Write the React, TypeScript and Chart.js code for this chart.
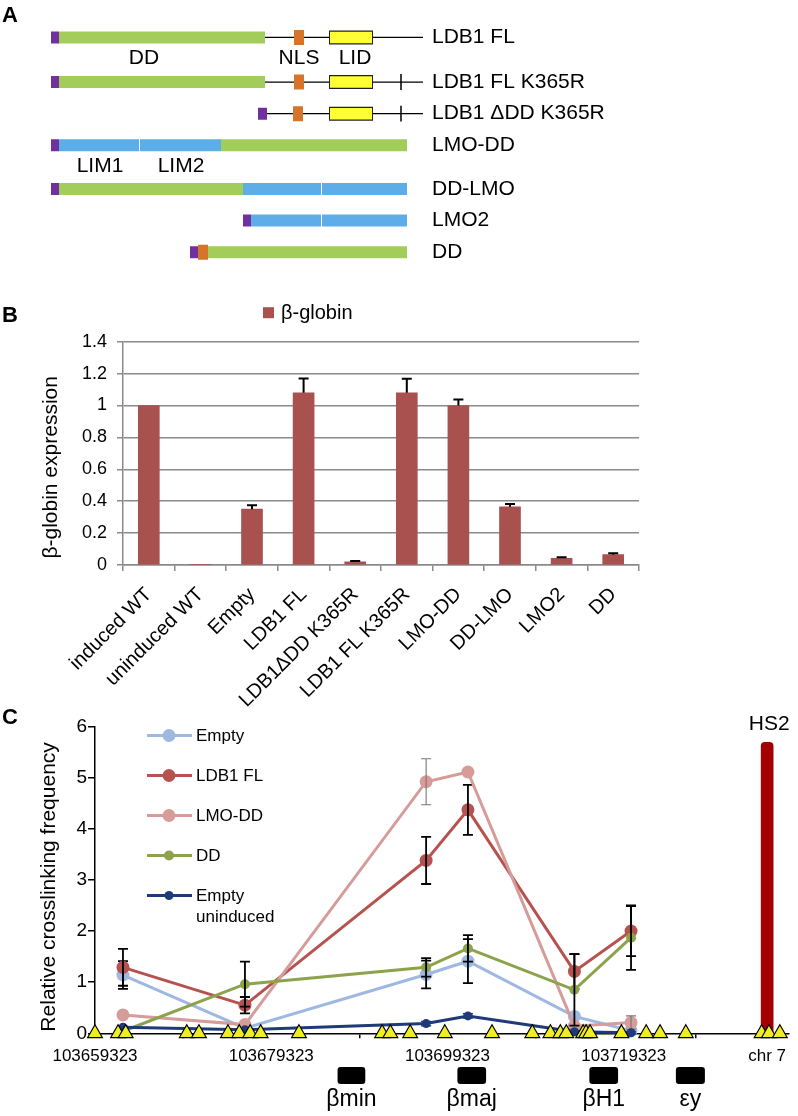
import React, { useEffect, useRef } from 'react';
import { Chart, registerables } from 'chart.js';

Chart.register(...registerables);
const FONT = '"Liberation Sans", Arial, Helvetica, sans-serif';
Chart.defaults.font.family = FONT;
Chart.defaults.color = '#000';

// ---------------- Panel A: construct diagrams ----------------
const constructs = ['LDB1 FL', 'LDB1 FL K365R', 'LDB1 ΔDD K365R', 'LMO-DD', 'DD-LMO', 'LMO2', 'DD'];
const rowPos = [0, 1.41, 2.41, 3.41, 4.79, 5.79, 6.79];
// [row, start, end]
const tagSegs = [[0, 0, 8], [1, 0, 8], [2, 207, 216], [3, 0, 8], [4, 0, 8], [5, 192, 200], [6, 139, 147]];
const ddSegs = [[0, 8, 214], [1, 8, 214], [3, 170, 356], [4, 8, 192], [6, 157, 356]];
const limSegs = [[3, 8, 88], [3, 89, 170], [4, 192, 270], [4, 271, 356], [5, 200, 270], [5, 271, 356]];
const nlsSegs = [[0, 243, 253], [1, 243, 253], [2, 242, 252], [6, 147, 157]];
const lidSegs = [[0, 279, 321], [1, 279, 321], [2, 279, 321]];
const linkerSegs = [[0, 214, 372], [1, 214, 372], [2, 216, 372]];
const mutationSites = [[1, 350], [2, 350]];
const domainLabels: [string, number, number][] = [['DD', 0, 93], ['NLS', 0, 248], ['LID', 0, 304], ['LIM1', 3, 49], ['LIM2', 3, 130]];

// ---------------- Panel B: beta-globin expression ----------------
const bSeriesName = 'β-globin';
const bCategories = ['induced WT', 'uninduced WT', 'Empty', 'LDB1 FL', 'LDB1ΔDD K365R', 'LDB1 FL K365R', 'LMO-DD', 'DD-LMO', 'LMO2', 'DD'];
const bValues = [1.0, 0.003, 0.35, 1.08, 0.02, 1.08, 1.0, 0.365, 0.042, 0.065];
const bErrors = [0, 0, 0.025, 0.09, 0.005, 0.087, 0.038, 0.017, 0.006, 0.008];
const bAxisTitle = 'β-globin expression';

// ---------------- Panel C: 3C crosslinking ----------------
const cPositions = [103662497, 103676339, 103696900, 103701645, 103713726, 103720153];
const emptyVals = [1.14, 0.10, 1.15, 1.41, 0.33, 0.05];
const emptyErr = [0.27, 0, 0.27, 0.43, 0, 0];
const ldb1Vals = [1.29, 0.55, 3.38, 4.37, 1.21, 2.0];
const ldb1Err = [0.36, 0.16, 0.46, 0.49, 0.34, 0.49];
const lmoddVals = [0.36, 0.17, 4.92, 5.11, 0.14, 0.21];
const lmoddErr = [0, 0, 0.45, 0, 0, 0.13];
const ddVals = [0.04, 0.96, 1.29, 1.66, 0.85, 1.87];
const ddErr = [0, 0.44, 0.18, 0.26, 0.7, 0.63];
const uninducedVals = [0.12, 0.07, 0.19, 0.34, 0.03, 0.01];
const uninducedErr = [0.02, 0.02, 0.04, 0.04, 0.02, 0.02];

const seriesNames = ['Empty', 'LDB1 FL', 'LMO-DD', 'DD', 'Empty uninduced'];
const legendLines = [['Empty'], ['LDB1 FL'], ['LMO-DD'], ['DD'], ['Empty', 'uninduced']];
const seriesValues = [emptyVals, ldb1Vals, lmoddVals, ddVals, uninducedVals];
const seriesErrors = [emptyErr, ldb1Err, lmoddErr, ddErr, uninducedErr];
const seriesColors = ['#9FB8E2', '#B65350', '#D59C9A', '#8CA34B', '#1E3A78'];
const markerRadius = [6.5, 6.5, 6.5, 5, 4.5];
const errorColors = ['#000', '#000', '#777', '#000', '#1E3A78'];
const errorWidths = [1.8, 1.8, 1.1, 1.8, 1.5];
const seriesOrder = [5, 4, 3, 2, 1];

const primerPositions = [103659323, 103661941, 103662806, 103669739, 103671121, 103674413, 103675694, 103676930,
  103678121, 103682469, 103691907, 103692840, 103695087, 103699020, 103704379, 103708952, 103711009, 103712132,
  103712806, 103714716, 103715054, 103715503, 103719065, 103721874, 103723447, 103726368, 103734975, 103735806, 103737042];

const geneNames = ['βmin', 'βmaj', 'βH1', 'εy'];
const geneStart = [103686851, 103700447, 103715424, 103725244];
const geneEnd = [103689997, 103703705, 103718683, 103728536];

const hs2Name = 'HS2';
const hs2Position = 103735600;
const hs2Value = 5.69;
const chr7Label = 'chr 7';
const xMin = 103659323;
const xMax = 103738000;
const xTickValues = [103659323, 103679323, 103699323, 103719323, hs2Position];
const cAxisTitle = 'Relative crosslinking frequency';

// ---------------- plugins ----------------
const errorBarPlugin = {
  id: 'errorBars',
  afterDatasetDraw(chart: any, args: any) {
    const ds: any = chart.data.datasets[args.index];
    if (!ds.errors) return;
    const yScale = chart.scales.y;
    const ctx = chart.ctx;
    ctx.save();
    ctx.strokeStyle = ds.errorColor || '#000';
    ctx.lineWidth = ds.errorWidth || 2;
    args.meta.data.forEach((el: any, i: number) => {
      const e = ds.errors[i];
      if (!e) return;
      const raw = ds.data[i];
      const v = typeof raw === 'number' ? raw : raw.y;
      const x = el.x;
      const yHi = yScale.getPixelForValue(v + e);
      const yLo = yScale.getPixelForValue(ds.errorUpOnly ? v : v - e);
      ctx.beginPath();
      ctx.moveTo(x, yLo);
      ctx.lineTo(x, yHi);
      ctx.moveTo(x - 5, yHi);
      ctx.lineTo(x + 5, yHi);
      if (!ds.errorUpOnly) {
        ctx.moveTo(x - 5, yLo);
        ctx.lineTo(x + 5, yLo);
      }
      ctx.stroke();
    });
    ctx.restore();
  },
};

const drawRotated = (ctx: CanvasRenderingContext2D, text: string, x: number, y: number, size: number) => {
  ctx.save();
  ctx.translate(x, y);
  ctx.rotate(-Math.PI / 2);
  ctx.font = `${size}px ${FONT}`;
  ctx.fillStyle = '#000';
  ctx.textAlign = 'center';
  ctx.textBaseline = 'middle';
  ctx.fillText(text, 0, 0);
  ctx.restore();
};

const segData = (segs: number[][]) =>
  segs.flatMap(([r, s, e]) => [{ x: s, y: rowPos[r] }, { x: e, y: rowPos[r] }, { x: e, y: null }]);

function configA(): any {
  const seg = (label: string, segs: number[][], color: string, width: number, order: number) => ({
    label, data: segData(segs), borderColor: color, backgroundColor: color, borderWidth: width,
    borderCapStyle: 'butt', pointRadius: 0, spanGaps: false, tension: 0, order, fill: false, clip: false,
  });
  const lidOutline = lidSegs.map(([r, s, e]) => [r, s - 1, e + 1]);
  const mutData = mutationSites.flatMap(([r, x]) => [{ x, y: rowPos[r] - 0.25 }, { x, y: rowPos[r] + 0.25 }, { x, y: null }]);
  const labelsPlugin = {
    id: 'domainLabels',
    afterDraw(chart: any) {
      const { ctx, scales } = chart;
      ctx.save();
      ctx.font = `21px ${FONT}`;
      ctx.fillStyle = '#000';
      ctx.textAlign = 'center';
      ctx.textBaseline = 'middle';
      domainLabels.forEach(([t, r, x]) => {
        ctx.fillText(t, scales.x.getPixelForValue(x), scales.y.getPixelForValue(rowPos[r] + 0.65));
      });
      ctx.restore();
    },
  };
  return {
    type: 'line',
    data: {
      datasets: [
        seg('linker', linkerSegs, '#000', 1.3, 10),
        { label: 'K365R', data: mutData, borderColor: '#000', borderWidth: 1.5, pointRadius: 0, order: 9, clip: false, spanGaps: false },
        seg('DD', ddSegs, '#A2CD5A', 12, 5),
        seg('LIM', limSegs, '#5DADE8', 12, 5),
        seg('tag', tagSegs, '#7030A0', 12, 4),
        seg('LID outline', lidOutline, '#222', 14, 3),
        seg('LID', lidSegs, '#FFFF33', 11.5, 2),
        seg('NLS', nlsSegs, '#D5742A', 15, 1),
      ],
    },
    options: {
      responsive: false, animation: false, events: [],
      layout: { padding: { left: 51, right: 0, top: 19, bottom: 5.8 } },
      plugins: { legend: { display: false }, tooltip: { enabled: false } },
      scales: {
        x: { type: 'linear', min: 0, max: 372, display: false },
        y: {
          type: 'linear', position: 'right', reverse: true, min: -0.5, max: 7.3,
          afterBuildTicks: (s: any) => { s.ticks = rowPos.map((v) => ({ value: v })); },
          afterFit: (s: any) => { s.width = 375; },
          ticks: { autoSkip: false, padding: 9, font: { size: 21 }, callback: (_v: any, i: number) => constructs[i] },
          grid: { display: false, drawTicks: false },
          border: { display: false },
        },
      },
    },
    plugins: [labelsPlugin],
  };
}

function configB(): any {
  const barColor = '#A8514F';
  const extras = {
    id: 'extrasB',
    afterDraw(chart: any) {
      const { ctx, chartArea } = chart;
      ctx.save();
      const x = chartArea.left + 140;
      const y = chartArea.top - 29;
      ctx.fillStyle = barColor;
      ctx.fillRect(x, y - 5.5, 11, 11);
      ctx.fillStyle = '#000';
      ctx.font = `20px ${FONT}`;
      ctx.textAlign = 'left';
      ctx.textBaseline = 'middle';
      ctx.fillText(bSeriesName, x + 18, y + 1);
      ctx.restore();
      drawRotated(ctx, bAxisTitle, 51, (chartArea.top + chartArea.bottom) / 2 + 14, 21);
    },
  };
  return {
    type: 'bar',
    data: {
      labels: bCategories,
      datasets: [{
        label: bSeriesName, data: bValues, backgroundColor: barColor, barThickness: 21,
        errors: bErrors, errorUpOnly: true, errorColor: '#000', errorWidth: 2,
      }],
    },
    options: {
      responsive: false, animation: false, events: [],
      layout: { padding: { top: 41.7, right: 21, left: 0, bottom: 0 } },
      plugins: { legend: { display: false }, tooltip: { enabled: false } },
      scales: {
        x: {
          grid: { offset: true, drawOnChartArea: false, drawTicks: true, tickLength: 6, color: '#8a8a8a', lineWidth: 1.5 },
          border: { color: '#8a8a8a', width: 1.5 },
          ticks: { minRotation: 45, maxRotation: 45, autoSkip: false, font: { size: 20 }, padding: 12 },
          afterFit: (s: any) => { s.height = 145; },
        },
        y: {
          min: 0, max: 1.4,
          ticks: { stepSize: 0.2, font: { size: 18 }, padding: 10, callback: (v: number) => String(Math.round(v * 10) / 10) },
          grid: { color: '#8a8a8a', lineWidth: 1.5, tickLength: 6 },
          border: { color: '#8a8a8a', width: 1.5 },
          afterFit: (s: any) => { s.width = 123; },
        },
      },
    },
    plugins: [errorBarPlugin, extras],
  };
}

function configC(): any {
  const lineSets = seriesNames.map((name, k) => ({
    type: 'line', label: name,
    data: cPositions.map((x, i) => ({ x, y: seriesValues[k][i] })),
    borderColor: seriesColors[k], backgroundColor: seriesColors[k], borderWidth: 3,
    pointRadius: markerRadius[k], pointBackgroundColor: seriesColors[k], pointBorderWidth: 0,
    errors: seriesErrors[k], errorColor: errorColors[k], errorWidth: errorWidths[k],
    order: seriesOrder[k], clip: false, tension: 0,
  }));
  const primers = {
    type: 'line', label: 'primers', data: primerPositions.map((x) => ({ x, y: 0 })), showLine: false,
    pointStyle: 'triangle', pointRadius: 8.5, pointBackgroundColor: '#EEEE22', pointBorderColor: '#000',
    pointBorderWidth: 1.2, order: 0, clip: false,
  };
  const hs2 = {
    type: 'bar', label: hs2Name, data: [{ x: hs2Position, y: hs2Value }], backgroundColor: '#A30000',
    barThickness: 12, borderRadius: 4, order: 6,
  };
  const extras = {
    id: 'extrasC',
    afterDraw(chart: any) {
      const { ctx, chartArea, scales } = chart;
      const xs = scales.x;
      const ys = scales.y;
      ctx.save();
      // legend
      legendLines.forEach((lines, k) => {
        const y = chartArea.top + 9 + k * 40;
        ctx.strokeStyle = seriesColors[k];
        ctx.lineWidth = 3;
        ctx.beginPath();
        ctx.moveTo(147, y);
        ctx.lineTo(192, y);
        ctx.stroke();
        ctx.fillStyle = seriesColors[k];
        ctx.beginPath();
        ctx.arc(169, y, markerRadius[k], 0, Math.PI * 2);
        ctx.fill();
        ctx.fillStyle = '#000';
        ctx.font = `17px ${FONT}`;
        ctx.textAlign = 'left';
        ctx.textBaseline = 'middle';
        lines.forEach((t, j) => ctx.fillText(t, 196, y + 1 + j * 21));
      });
      // genes
      geneNames.forEach((g, i) => {
        const x0 = xs.getPixelForValue(geneStart[i]);
        const x1 = xs.getPixelForValue(geneEnd[i]);
        const top = chartArea.bottom + 33.7;
        ctx.fillStyle = '#000';
        ctx.beginPath();
        (ctx as any).roundRect(x0, top, x1 - x0, 17, 3);
        ctx.fill();
        ctx.font = `23px ${FONT}`;
        ctx.textAlign = 'center';
        ctx.textBaseline = 'alphabetic';
        ctx.fillText(g, (x0 + x1) / 2, chartArea.bottom + 73);
      });
      // HS2 label
      ctx.font = `21px ${FONT}`;
      ctx.textAlign = 'center';
      ctx.textBaseline = 'alphabetic';
      ctx.fillStyle = '#000';
      ctx.fillText(hs2Name, xs.getPixelForValue(hs2Position) + 2, ys.getPixelForValue(hs2Value) - 12);
      ctx.restore();
      drawRotated(ctx, cAxisTitle, 49, (chartArea.top + chartArea.bottom) / 2 + 7, 21);
    },
  };
  return {
    type: 'line',
    data: { datasets: [primers, ...lineSets, hs2] },
    options: {
      responsive: false, animation: false, events: [],
      layout: { padding: { top: 26.5, right: 2, left: 0, bottom: 0 } },
      plugins: { legend: { display: false }, tooltip: { enabled: false } },
      scales: {
        x: {
          type: 'linear', min: xMin, max: xMax, offset: false,
          afterBuildTicks: (s: any) => { s.ticks = xTickValues.map((v) => ({ value: v })); },
          afterFit: (s: any) => { s.height = 82.7; },
          ticks: { autoSkip: false, maxRotation: 0, font: { size: 17 }, padding: 8,
            callback: (v: number) => (v === hs2Position ? chr7Label : String(v)) },
          grid: { drawOnChartArea: false, tickLength: 5, color: '#000', lineWidth: 1.5 },
          border: { color: '#000', width: 1.5 },
        },
        y: {
          min: 0, max: 6,
          ticks: { stepSize: 1, font: { size: 19 }, padding: 1 },
          grid: { drawOnChartArea: false, tickLength: 7, color: '#000', lineWidth: 1.5 },
          border: { color: '#000', width: 1.5 },
          afterFit: (s: any) => { s.width = 95; },
        },
      },
    },
    plugins: [errorBarPlugin, extras],
  };
}

export default function App() {
  const aRef = useRef<HTMLCanvasElement>(null);
  const bRef = useRef<HTMLCanvasElement>(null);
  const cRef = useRef<HTMLCanvasElement>(null);
  useEffect(() => {
    const a = new Chart(aRef.current as HTMLCanvasElement, configA());
    const b = new Chart(bRef.current as HTMLCanvasElement, configB());
    const c = new Chart(cRef.current as HTMLCanvasElement, configC());
    return () => { a.destroy(); b.destroy(); c.destroy(); };
  }, []);
  const letter = (t: string, top: number) => (
    <div style={{ position: 'absolute', left: 2, top, font: `bold 22px ${FONT}`, lineHeight: '22px', color: '#000' }}>{t}</div>
  );
  return (
    <div style={{ position: 'absolute', left: 0, top: 0, width: 798, height: 1116, background: '#fff', overflow: 'hidden' }}>
      <canvas ref={aRef} width={798} height={290} style={{ position: 'absolute', left: 0, top: 0, width: 798, height: 290 }} />
      <canvas ref={bRef} width={660} height={410} style={{ position: 'absolute', left: 0, top: 300, width: 660, height: 410 }} />
      <canvas ref={cRef} width={798} height={416} style={{ position: 'absolute', left: 0, top: 700, width: 798, height: 416 }} />
      {letter('A', 4)}
      {letter('B', 304)}
      {letter('C', 706)}
    </div>
  );
}
